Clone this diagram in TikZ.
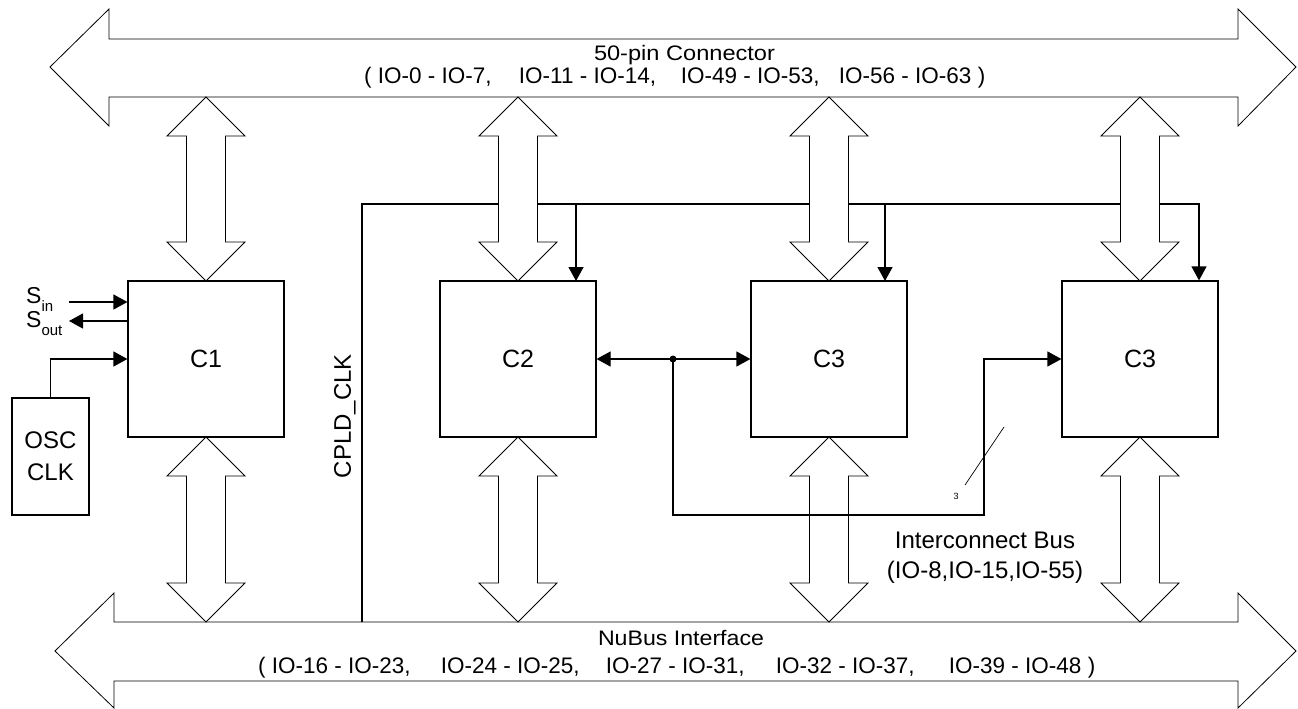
\documentclass[tikz,border=0pt]{standalone}
\usepackage{fontspec}
\setmainfont{Liberation Sans}
\usepackage{graphicx}
\usetikzlibrary{arrows.meta}
\newcommand\busV[3]{% x, ytop, ybottom
  \draw[bus] (#1,#2) -- (#1+39,#2+39) -- (#1+19.5,#2+39) -- (#1+19.5,#3-39) -- (#1+39,#3-39)
    -- (#1,#3) -- (#1-39,#3-39) -- (#1-19.5,#3-39) -- (#1-19.5,#2+39) -- (#1-39,#2+39) -- cycle;}
\tikzset{
  blk/.style={draw, line width=1.2pt, minimum width=156pt, minimum height=156pt, inner sep=0pt, font=\fontsize{25}{30}\selectfont},
  bus/.style={draw, line width=0.8pt, fill=white, line join=miter},
  wire/.style={line width=1.2pt},
  tip/.style={-{Triangle[length=14pt,width=15pt]}},
  lbl/.style={font=\fontsize{21}{25}\selectfont, inner sep=0pt, anchor=base},
  grp/.style={font=\fontsize{22.5}{26}\selectfont, inner sep=0pt, anchor=base west},
  txt/.style={font=\fontsize{24}{28}\selectfont, inner sep=0pt, anchor=base},
}
\begin{document}
\begin{tikzpicture}[x=1pt,y=-1pt]
\useasboundingbox (0,0) rectangle (1298,709);
% boxes
\node[blk] (c1) at (206,359) {C1};
\node[blk] (c2) at (518,359) {C2};
\node[blk] (c3a) at (829,359) {C3};
\node[blk] (c3b) at (1140,359) {C3};
\node[draw, line width=1.2pt, minimum width=77pt, minimum height=117pt, inner sep=0pt] (osc) at (50.5,456.5) {};
\node[txt] at (50.5,448) {OSC};
\node[txt] at (50.5,480) {CLK};
% clock distribution (drawn under the bus arrows)
\coordinate (clkb) at (362,622);
\coordinate (clkr) at (1199,204);
\draw[wire,tip] (clkb) |- (clkr) -- (clkr |- c3b.north);
\draw[wire,tip] (576,204) -- (576,281);
\draw[wire,tip] (885,204) -- (885,281);
\node[txt, anchor=center, rotate=90] (clklbl) at (345,416) {CPLD\_CLK};
% big buses
\draw[bus] (50,67) -- (109,9) -- (109,39) -- (1238,39) -- (1238,9) -- (1296,67) -- (1238,126) -- (1238,97) -- (109,97) -- (109,126) -- cycle;
\draw[bus] (55,651) -- (114,593) -- (114,622) -- (1238,622) -- (1238,593) -- (1296,651) -- (1238,708) -- (1238,681) -- (114,681) -- (114,708) -- cycle;
% small buses
\busV{206}{97}{281}\busV{518}{97}{281}\busV{829}{97}{281}\busV{1140}{97}{281}
\busV{206}{437}{622}\busV{518}{437}{622}\busV{829}{437}{622}\busV{1140}{437}{622}
% bus labels
\node[lbl] (top1) at (684.5,61) {\resizebox{181pt}{\height}{50-pin Connector}};
\node[grp] (top2) at (364,84) {( \makebox[141pt][l]{IO-0 - IO-7,}\makebox[162pt][l]{IO-11 - IO-14,}\makebox[158pt][l]{IO-49 - IO-53,}IO-56 - IO-63 )};
\node[lbl] (bot1) at (681,645) {\resizebox{166pt}{\height}{NuBus Interface}};
\node[grp] (bot2) at (258,673) {( \makebox[169pt][l]{IO-16 - IO-23,}\makebox[165pt][l]{IO-24 - IO-25,}\makebox[170pt][l]{IO-27 - IO-31,}\makebox[173pt][l]{IO-32 - IO-37,}IO-39 - IO-48 )};
% serial
\coordinate (sin) at (69,302);
\coordinate (sout) at (69,321);
\draw[wire,tip] (sin) -- (sin -| c1.west);
\draw[wire,tip] (sout -| c1.west) -- (sout);
\node[anchor=base west, inner sep=0pt, font=\fontsize{23}{28}\selectfont] (sinl) at (26,303) {S\raisebox{-8pt}{\fontsize{15}{15}\selectfont in}};
\node[anchor=base west, inner sep=0pt, font=\fontsize{23}{28}\selectfont] (soutl) at (26,327) {S\raisebox{-8pt}{\fontsize{15}{15}\selectfont out}};
\draw[wire,tip] (osc.north) |- (c1.west);
% interconnect
\coordinate (dot) at (673,359);
\draw[wire,{Triangle[length=14pt,width=15pt]}-{Triangle[length=14pt,width=15pt]}] (c2.east) -- (c3a.west);
\fill (dot) circle (3.5pt);
\draw[wire,tip] (dot) -- (673,515) -- (984,515) |- (c3b.west);
\draw[line width=0.7pt] (965,485) -- (1004,427);
\node[anchor=center, inner sep=0pt, font=\fontsize{9}{10}\selectfont] (n3) at (956,496) {3};
\node[txt] (ib1) at (985,548) {Interconnect Bus};
\node[txt] (ib2) at (985,578) {(IO-8,IO-15,IO-55)};
\end{tikzpicture}
\end{document}
